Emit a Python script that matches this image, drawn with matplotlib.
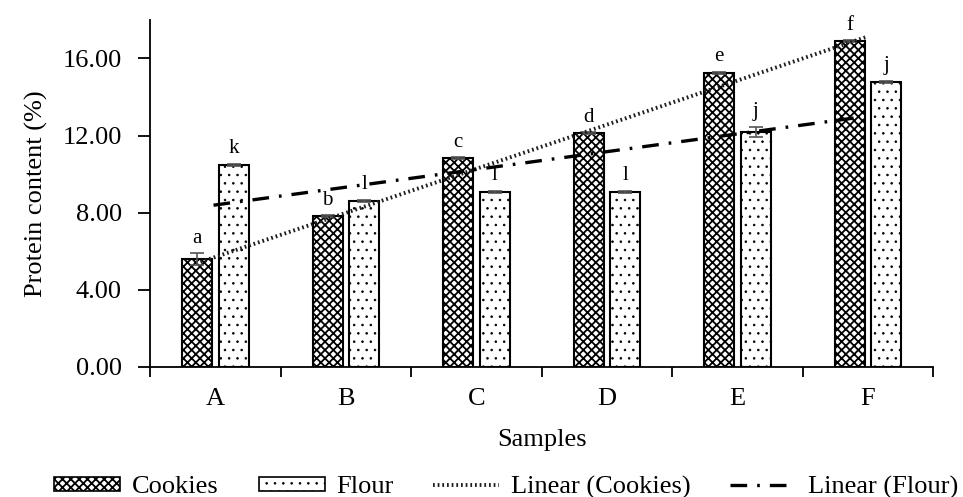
import numpy as np
import matplotlib.pyplot as plt
from matplotlib.patches import Patch
from matplotlib.lines import Line2D

plt.rcParams['font.family'] = ['Liberation Serif', 'DejaVu Serif']
plt.rcParams['hatch.linewidth'] = 1.2

samples = ['A', 'B', 'C', 'D', 'E', 'F']
cookies = [5.60, 7.82, 10.83, 12.12, 15.25, 16.90]
flour = [10.47, 8.62, 9.08, 9.07, 12.19, 14.78]
cookies_err = [0.30, 0.05, 0.05, 0.05, 0.05, 0.05]
flour_err = [0.05, 0.05, 0.05, 0.05, 0.25, 0.05]
cookies_letters = ['a', 'b', 'c', 'd', 'e', 'f']
flour_letters = ['k', 'l', 'l', 'l', 'j', 'j']

x = np.arange(len(samples))
w = 0.23
off = 0.14
ck_hatch = 'xxxx'
fl_hatch = '..'


def hatch_lw(artists, lw):
    for a in artists:
        if hasattr(a, 'set_hatch_linewidth'):
            a.set_hatch_linewidth(lw)


fig = plt.figure(figsize=(9.63, 4.97), dpi=100)
ax = fig.add_axes([0.156, 0.262, 0.813, 0.698])

b1 = ax.bar(x - off, cookies, w, color='white', edgecolor='black', linewidth=1.5,
            hatch=ck_hatch, zorder=2)
b2 = ax.bar(x + off, flour, w, color='white', edgecolor='black', linewidth=1.5,
            hatch=fl_hatch, zorder=2)
hatch_lw(b1, 1.3)
hatch_lw(b2, 0.6)
ax.errorbar(x - off, cookies, yerr=cookies_err, fmt='none', ecolor='#555555',
            elinewidth=1.2, capsize=5, capthick=1.2, zorder=3)
ax.errorbar(x + off, flour, yerr=flour_err, fmt='none', ecolor='#555555',
            elinewidth=1.2, capsize=5, capthick=1.2, zorder=3)

for xi, v, e, t in zip(x - off, cookies, cookies_err, cookies_letters):
    ax.annotate(t, (xi, v + e), xytext=(0, 4), textcoords='offset points',
                ha='center', va='bottom', fontsize=15)
for xi, v, e, t in zip(x + off, flour, flour_err, flour_letters):
    ax.annotate(t, (xi, v + e), xytext=(0, 4), textcoords='offset points',
                ha='center', va='bottom', fontsize=15)

# linear trendlines (least squares over sample index)
kc = np.polyfit(x, cookies, 1)
kf = np.polyfit(x, flour, 1)
xc = np.array([-0.115, 4.99])
xf = np.array([-0.015, 4.92])
dot_style = (0, (0.45, 0.75))
ax.plot(xc, np.polyval(kc, xc), color='#1e1e1e', lw=2.8, linestyle=dot_style,
        zorder=4)
lf, = ax.plot(xf, np.polyval(kf, xf), color='black', lw=2.4, zorder=4)
lf.set_dashes((5, 3, 0.8, 3))

ax.set_xlim(-0.5, 5.5)
ax.set_ylim(0, 18)
ax.set_yticks([0, 4, 8, 12, 16])
ax.set_yticklabels(['%.2f' % v for v in [0, 4, 8, 12, 16]])
ax.set_xticks(x)
ax.set_xticklabels(samples)
ax.set_xticks(np.arange(-0.5, 6.0, 1.0), minor=True)
ax.tick_params(axis='x', which='major', length=0, pad=15, labelsize=19)
ax.tick_params(axis='x', which='minor', length=7, width=1.3, direction='out')
ax.tick_params(axis='y', length=8.5, width=1.3, pad=12, labelsize=19)
for s in ['top', 'right']:
    ax.spines[s].set_visible(False)
for s in ['left', 'bottom']:
    ax.spines[s].set_linewidth(1.3)

ax.set_ylabel('Protein content (%)', fontsize=19, labelpad=10)
ax.set_xlabel('Samples', fontsize=19, labelpad=14)

p1 = Patch(facecolor='white', edgecolor='black', hatch=ck_hatch, linewidth=1.2)
p2 = Patch(facecolor='white', edgecolor='black', hatch=fl_hatch, linewidth=1.2)
handles = [
    p1, p2,
    Line2D([], [], color='#1e1e1e', lw=2.8, linestyle=dot_style),
    Line2D([], [], color='black', lw=2.4, dashes=(5, 3, 0.8, 3)),
]
labels = ['Cookies', 'Flour', 'Linear (Cookies)', 'Linear (Flour)']
leg = fig.legend(handles, labels, loc='lower left', bbox_to_anchor=(0.04, -0.035),
                 ncol=4, frameon=False, fontsize=19, handlelength=2.5,
                 handleheight=0.45, handletextpad=0.45, columnspacing=1.5,
                 borderpad=0.1)
hatch_lw(leg.get_patches()[:1], 1.3)
hatch_lw(leg.get_patches()[1:2], 0.6)

fig.savefig('out.png', dpi=100)
